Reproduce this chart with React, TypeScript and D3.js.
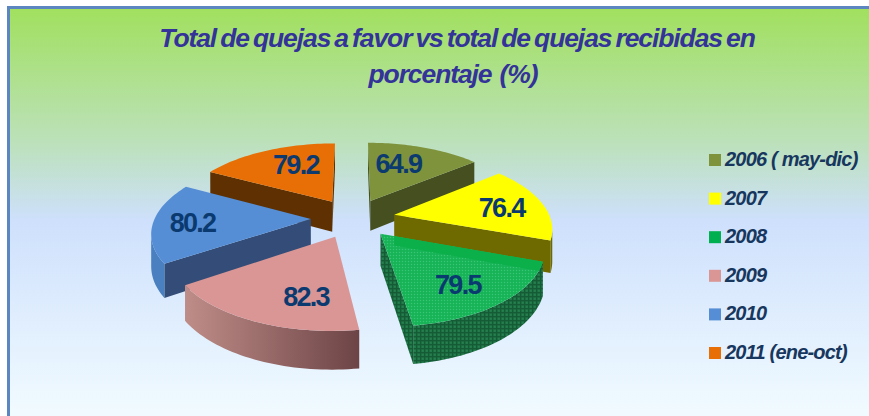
import React from "react";
import * as d3 from "d3";

const categories = ["2006 ( may-dic)", "2007", "2008", "2009", "2010", "2011 (ene-oct)"];
const values = [64.9, 76.4, 79.5, 82.3, 80.2, 79.2];
const valueLabels = ["64.9", "76.4", "79.5", "82.3", "80.2", "79.2"];
const topColors = ["#7f933c", "#ffff00", "url(#greenTop)", "#d99694", "#558ed5", "#e76f06"];
const legendColors = ["#7f933c", "#ffff00", "#00b050", "#d99694", "#558ed5", "#e76f06"];
const radialWallColors = ["#454f20", "#6e6a00", "url(#greenSide)", "#7d5553", "#334d78", "#5e3002"];
const arcWallColors = ["#454f20", "#6e6a00", "url(#greenSide)", "url(#pinkWall)", "#4a80bf", "#5e3002"];
const titleLines = ["Total de quejas a favor vs total de quejas recibidas en", "porcentaje  (%)"];

const W = 869, H = 416;
const cx = 353, cy = 218, S = 156, A = 72.5, K = 0.16, EXPLODE = 0.27, T = 31;
const LABEL_R = 0.6;
const labelNudge = [[-6, -4], [18, 0], [9, 11], [16, 12], [-24, 1], [5, -5]];

type P = [number, number];
const proj = (X: number, Z: number, drop = 0): P => {
  const w = 1 - K * Z;
  return [cx + (S * X) / w, cy + (A * Z) / w + (drop ? T / w : 0)];
};
// ground plane: angle measured clockwise from "back" (12 o'clock)
const ground = (a: number, r: number, ox = 0, oz = 0): [number, number] => [ox + r * Math.sin(a), oz - r * Math.cos(a)];

const pathOf = d3.line<P>();

export default function App() {
  const arcs = d3.pie<number>().sort(null)(values);
  const legendY = d3.scalePoint<number>().domain(d3.range(6)).range([160, 353]);

  const slices = arcs.map((d, i) => {
    const mid = (d.startAngle + d.endAngle) / 2;
    const [ox, oz] = ground(mid, EXPLODE);
    const angles = d3.range(0, 41).map((k) => d.startAngle + ((d.endAngle - d.startAngle) * k) / 40);
    const rim = angles.map((a) => ground(a, 1, ox, oz));
    const topRim = rim.map(([x, z]) => proj(x, z));
    const botRim = rim.map(([x, z]) => proj(x, z, 1));
    const apexTop = proj(ox, oz);
    const apexBot = proj(ox, oz, 1);
    const top = pathOf([apexTop, ...topRim])! + "Z";
    const walls: { d: string; fill: string }[] = [];
    const start = topRim[0];
    const end = topRim[40];
    if (start[0] < apexTop[0]) walls.push({ d: pathOf([apexTop, start, botRim[0], apexBot])! + "Z", fill: radialWallColors[i] });
    if (apexTop[0] < end[0]) walls.push({ d: pathOf([end, apexTop, apexBot, botRim[40]])! + "Z", fill: radialWallColors[i] });
    // rim wall: only the segments running right-to-left face the viewer
    const front = d3.range(40).filter((k) => topRim[k + 1][0] < topRim[k][0]);
    if (front.length) {
      const a = front[0], b = front[front.length - 1] + 1;
      const upper = topRim.slice(a, b + 1);
      const lower = botRim.slice(a, b + 1).reverse();
      walls.push({ d: pathOf([...upper, ...lower])! + "Z", fill: arcWallColors[i] });
    }
    const [lx, lz] = ground(mid, LABEL_R, ox, oz);
    const lp = proj(lx, lz);
    return { i, oz, top, walls, label: [lp[0] + labelNudge[i][0], lp[1] + labelNudge[i][1]] as P };
  });
  const order = [...slices].sort((a, b) => a.oz - b.oz);
  const yellow = slices[1];
  const green = slices[2];

  return (
    <svg width={W} height={H} style={{ position: "absolute", left: 0, top: 0, fontFamily: "'Liberation Sans', Arial, sans-serif" }}>
      <defs>
        <linearGradient id="bg" x1="0" y1="0" x2="0" y2="1">
          <stop offset="0" stopColor="#a1e05f" />
          <stop offset="0.33" stopColor="#bce1bb" />
          <stop offset="0.52" stopColor="#cee0fc" />
          <stop offset="1" stopColor="#f1fbff" />
        </linearGradient>
        <linearGradient id="pinkWall" x1="0" y1="0" x2="1" y2="0">
          <stop offset="0" stopColor="#bf8d88" />
          <stop offset="1" stopColor="#6d4446" />
        </linearGradient>
        <pattern id="greenTop" width="3" height="3" patternUnits="userSpaceOnUse">
          <rect width="3" height="3" fill="#1ab65a" />
          <rect width="1" height="1" fill="#3cc479" />
          <rect x="1.5" y="1.5" width="1" height="1" fill="#10a94f" />
        </pattern>
        <pattern id="greenSide" width="4" height="4" patternUnits="userSpaceOnUse">
          <rect width="4" height="4" fill="#1f7647" />
          <rect width="4" height="1.3" fill="#155c36" />
          <rect width="1.3" height="4" fill="#155c36" />
          <rect x="2.3" y="2.3" width="1" height="1" fill="#2f8a59" />
        </pattern>
        <clipPath id="greenClip"><path d={green.top} /></clipPath>
      </defs>

      <rect x={7} y={6} width={W - 7} height={H - 6} fill="#5b86bf" />
      <rect x={10} y={9} width={W - 10} height={H - 9} fill="url(#bg)" />

      <g fill="#333399" fontWeight="bold" fontStyle="italic" fontSize={26.5} textAnchor="middle" letterSpacing={-1.1} wordSpacing={-2.2}>
        <text x={457} y={47}>{titleLines[0]}</text>
        <text x={453} y={83} xmlSpace="preserve">{titleLines[1]}</text>
      </g>

      {order.map((s) => (
        <g key={s.i}>
          {s.walls.map((w, k) => <path key={k} d={w.d} fill={w.fill} />)}
          <path d={s.top} fill={topColors[s.i]} />
        </g>
      ))}
      <g clipPath="url(#greenClip)">
        {yellow.walls.map((w, k) => <path key={k} d={w.d} fill="#0bb04a" />)}
      </g>

      <g fill="#0b3a70" fontWeight="bold" fontSize={27} textAnchor="middle" letterSpacing={-1.7}>
        {slices.map((s) => (
          <text key={s.i} x={s.label[0]} y={s.label[1]} dy="0.36em">{valueLabels[s.i]}</text>
        ))}
      </g>

      {categories.map((c, i) => (
        <g key={c}>
          <rect x={709} y={legendY(i)! - 6} width={12} height={12} fill={legendColors[i]} />
          <text x={725} y={legendY(i)! + 6} fill="#17375e" fontWeight="bold" fontStyle="italic" fontSize={20} letterSpacing={-0.8} xmlSpace="preserve">{c}</text>
        </g>
      ))}
    </svg>
  );
}
